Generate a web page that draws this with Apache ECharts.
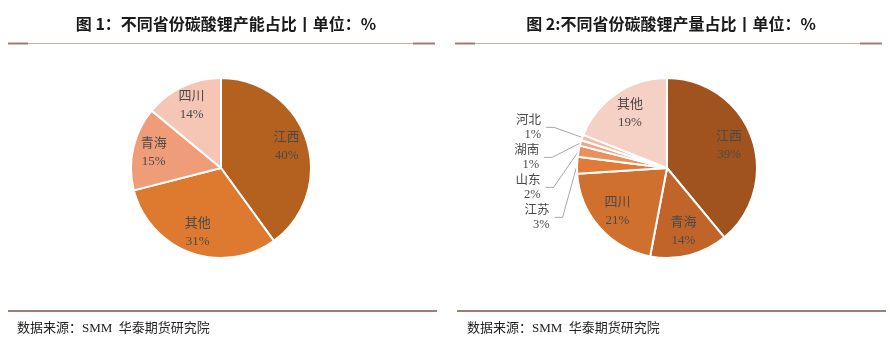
<!DOCTYPE html>
<html><head><meta charset="utf-8">
<script src="https://cdn.jsdelivr.net/npm/echarts@6/dist/echarts.min.js"></script>
<style>html,body{margin:0;padding:0;background:#fff}#c{width:890px;height:344px}</style>
</head><body><div id="c"></div>
<script>
const title1 = '图 1：不同省份碳酸锂产能占比丨单位：%';
const title2 = '图 2:不同省份碳酸锂产量占比丨单位：%';
const source = '数据来源：SMM  华泰期货研究院';
const cap_names = ['江西', '其他', '青海', '四川'];
const cap_values = [40, 31, 15, 14];
const cap_colors = ['#b4611f', '#de7a30', '#ee9d78', '#f5c6b6'];
const out_names = ['江西', '青海', '四川', '江苏', '山东', '湖南', '河北', '其他'];
const out_values = [39, 14, 21, 3, 2, 1, 1, 19];
const out_colors = ['#a0531e', '#c0642a', '#cf702e', '#e07a36', '#e8905e', '#eda686', '#f1bca6', '#f5d0c4'];
const out_outside = ['江苏', '山东', '湖南', '河北'];

const serif = '"Liberation Serif","Noto Sans CJK SC",serif';
const sans = '"Noto Sans CJK SC","Noto Sans",sans-serif';
const lbl = {color: '#4a4a4a', fontFamily: serif, fontSize: 13, lineHeight: 18};

function pieData(names, vals, cols) {
  return names.map((n, i) => ({name: n, value: vals[i], itemStyle: {color: cols[i]}}));
}
function labelData(names, vals, outside) {
  return names.map((n, i) => {
    const d = {name: n, value: vals[i]};
    if (outside && outside.includes(n)) {
      d.label = {position: 'outside', fontSize: 12.5, lineHeight: 14};
      d.labelLine = {show: true};
    }
    return d;
  });
}
const base = {type: 'pie', startAngle: 90, clockwise: true, silent: true, animation: false, emphasis: {disabled: true}};
function shapes(center, names, vals, cols) {
  return Object.assign({}, base, {center: center, radius: 90,
    itemStyle: {borderColor: '#fff', borderWidth: 2}, label: {show: false}, labelLine: {show: false},
    data: pieData(names, vals, cols)});
}
function labels(center, r0, names, vals, outside) {
  return Object.assign({}, base, {center: center, radius: [r0, 90],
    itemStyle: {color: 'rgba(0,0,0,0)', borderWidth: 0},
    label: Object.assign({show: true, position: 'inside', formatter: '{b}\n{c}%'}, lbl),
    labelLine: {show: false, lineStyle: {color: '#a6a6a6', width: 1}, length: 30, length2: 8},
    data: labelData(names, vals, outside)});
}

const chart = echarts.init(document.getElementById('c'));
chart.setOption({
  animation: false,
  title: [
    {text: title1, left: 221, top: 11, textAlign: 'center', textStyle: {fontFamily: sans, fontSize: 16, fontWeight: 'bold', color: '#1a1a1a'}},
    {text: title2, left: 666, top: 11, textAlign: 'center', textStyle: {fontFamily: sans, fontSize: 16, fontWeight: 'bold', color: '#1a1a1a'}},
    {text: source, left: 12, top: 317, textStyle: {fontFamily: serif, fontSize: 13, fontWeight: 'normal', color: '#222'}},
    {text: source, left: 462, top: 317, textStyle: {fontFamily: serif, fontSize: 13, fontWeight: 'normal', color: '#222'}}
  ],
  graphic: [
    {type: 'line', shape: {x1: 8, y1: 43.5, x2: 435, y2: 43.5}, style: {stroke: '#c8aaa6', lineWidth: 1}},
    {type: 'line', shape: {x1: 8, y1: 43.5, x2: 28, y2: 43.5}, style: {stroke: '#a27a76', lineWidth: 2}},
    {type: 'line', shape: {x1: 413, y1: 43.5, x2: 435, y2: 43.5}, style: {stroke: '#a27a76', lineWidth: 2}},
    {type: 'line', shape: {x1: 455, y1: 43.5, x2: 882, y2: 43.5}, style: {stroke: '#c8aaa6', lineWidth: 1}},
    {type: 'line', shape: {x1: 455, y1: 43.5, x2: 475, y2: 43.5}, style: {stroke: '#a27a76', lineWidth: 2}},
    {type: 'line', shape: {x1: 860, y1: 43.5, x2: 882, y2: 43.5}, style: {stroke: '#a27a76', lineWidth: 2}},
    {type: 'line', shape: {x1: 8, y1: 311, x2: 437, y2: 311}, style: {stroke: '#a27a76', lineWidth: 2}},
    {type: 'line', shape: {x1: 457, y1: 311, x2: 886, y2: 311}, style: {stroke: '#a27a76', lineWidth: 2}}
  ],
  series: [
    shapes([221, 168], cap_names, cap_values, cap_colors),
    labels([221, 168], 42, cap_names, cap_values),
    shapes([667, 168], out_names, out_values, out_colors),
    labels([667, 168], 36, out_names, out_values, out_outside)
  ]
});
</script></body></html>
